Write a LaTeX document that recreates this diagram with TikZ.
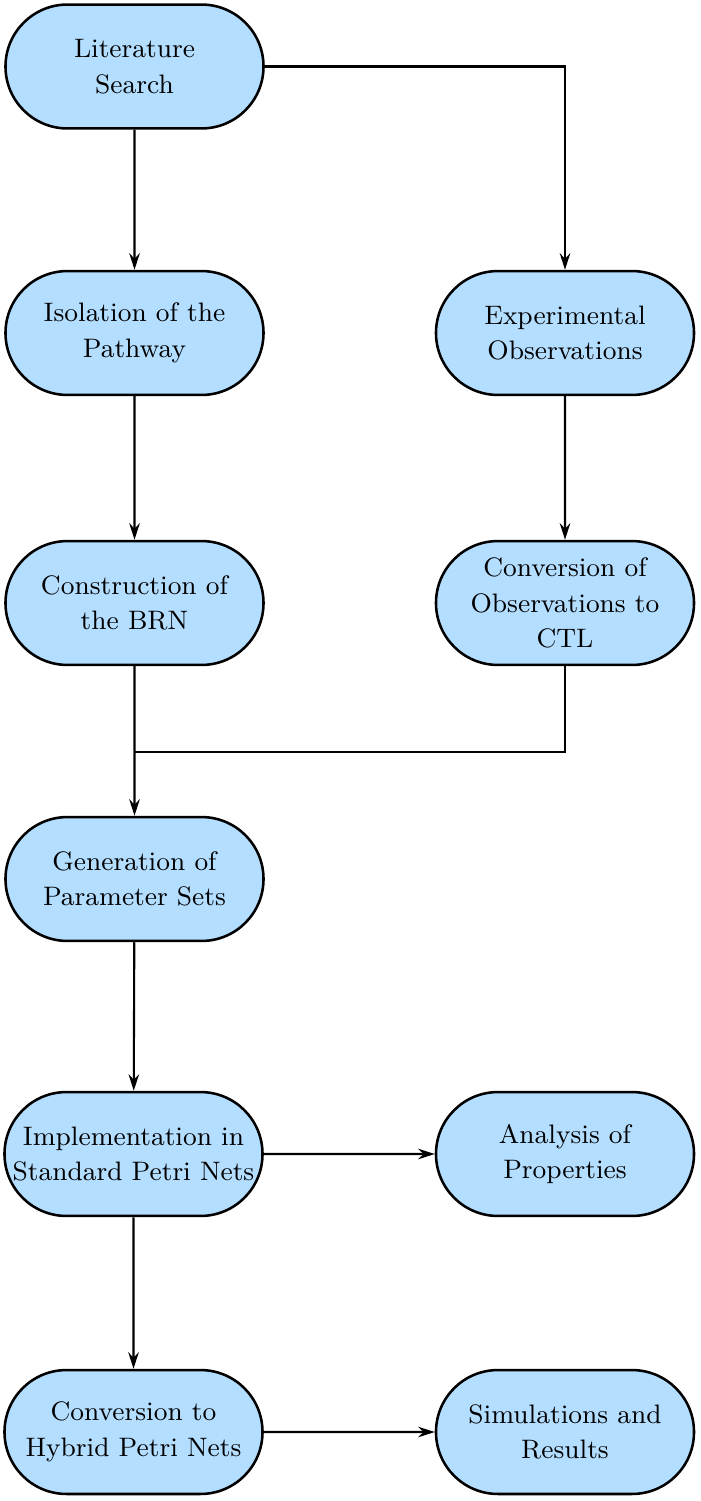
\documentclass[tikz,border=0pt]{standalone}
\usetikzlibrary{shapes.misc,arrows.meta}
\definecolor{boxblue}{RGB}{180,222,255}
\begin{document}
\begin{tikzpicture}[x=0.3333pt,y=-0.3333pt,
  box/.style={rounded rectangle, draw, line width=0.85pt, fill=boxblue,
    minimum width=86pt, minimum height=41.3pt, align=center, inner xsep=0pt, inner ysep=1pt,
    font=\fontsize{8.9pt}{11.8pt}\selectfont},
  arr/.style={-{Stealth[length=5.5pt,width=3.5pt]}, line width=0.7pt},
  ln/.style={line width=0.7pt}]
\useasboundingbox (0,0) rectangle (700,1501);
\node[box] (lit) at (134.5,66.5) {Literature\\Search};
\node[box] (iso) at (134.5,333) {Isolation of the\\Pathway};
\node[box] (exp) at (565,333) {Experimental\\Observations};
\node[box] (con) at (134.5,603) {Construction of\\the BRN};
\node[box] (ctl) at (565,603) {Conversion of\\Observations to\\CTL};
\node[box] (gen) at (134.5,879) {Generation of\\Parameter Sets};
\node[box] (imp) at (133.5,1154) {Implementation in\\Standard Petri Nets};
\node[box] (ana) at (565,1154) {Analysis of\\Properties};
\node[box] (hyb) at (133.5,1432) {Conversion to\\Hybrid Petri Nets};
\node[box] (sim) at (565,1432) {Simulations and\\Results};
\coordinate (m) at (134.5,752);
\draw[arr] (lit) -- (iso);
\draw[arr] (lit.east) -| (exp.north);
\draw[arr] (iso) -- (con);
\draw[arr] (exp) -- (ctl);
\draw[arr] (con) -- (gen);
\draw[ln] (ctl.south) |- (m);
\draw[arr] (gen) -- (imp);
\draw[arr] (imp) -- (hyb);
\draw[arr] (imp) -- (ana);
\draw[arr] (hyb) -- (sim);
\end{tikzpicture}
\end{document}
